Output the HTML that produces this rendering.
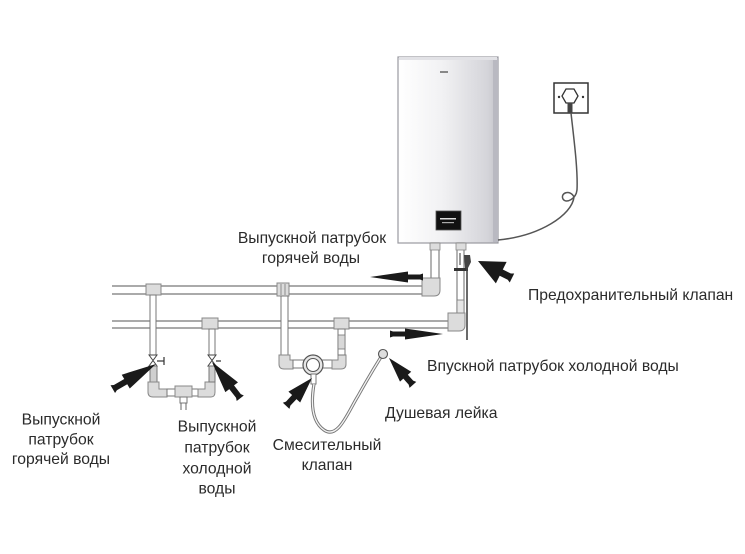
<!DOCTYPE html>
<html>
<head>
<meta charset="utf-8">
<style>
  html,body{margin:0;padding:0;background:#fff;}
  body{width:745px;height:554px;overflow:hidden;}
  svg{display:block;}
  text{font-family:"Liberation Sans","Noto Sans CJK SC",sans-serif;font-size:15.7px;fill:#2b2b2b;}
</style>
</head>
<body>
<svg width="745" height="554" viewBox="0 0 745 554" xmlns="http://www.w3.org/2000/svg">
  <defs>
    <linearGradient id="hg" x1="0" y1="0" x2="1" y2="0">
      <stop offset="0" stop-color="#ffffff"/>
      <stop offset="0.45" stop-color="#f1f1f3"/>
      <stop offset="0.9" stop-color="#d4d4d9"/>
      <stop offset="1" stop-color="#c2c2c8"/>
    </linearGradient>
  </defs>

  <!-- Heater -->
  <rect x="398" y="57" width="100" height="186" fill="url(#hg)" stroke="#9a9aa0" stroke-width="1.2"/>
  <rect x="493" y="58" width="5" height="184" fill="#b9b9c1"/>
  <rect x="399" y="57" width="98" height="3" fill="#e2e2e6"/>
  <rect x="440" y="71" width="8" height="2" fill="#888"/>
  <rect x="436" y="211" width="25" height="19" fill="#111" stroke="#555" stroke-width="0.8"/>
  <rect x="440" y="218" width="16" height="1.5" fill="#ddd"/>
  <rect x="442" y="222" width="12" height="1.2" fill="#aaa"/>

  <!-- Socket -->
  <rect x="554" y="83" width="34" height="30" fill="#fff" stroke="#333" stroke-width="1.5"/>
  <polygon points="566,89 574,89 578,96 574,103 566,103 562,96" fill="#fff" stroke="#333" stroke-width="1.3"/>
  <circle cx="559" cy="97" r="1.2" fill="#333"/>
  <circle cx="583" cy="97" r="1.2" fill="#333"/>
  <rect x="567.5" y="103" width="5" height="10" fill="#444"/>
  <!-- Cord -->
  <path d="M571,113 C574,140 578,170 577,190 C576,199 566,204 563,199 C560,193 570,189 574,197 C572,215 540,236 498,240" fill="none" stroke="#555" stroke-width="1.5"/>

  <!-- Hot horizontal pipe -->
  <rect x="112" y="286" width="314" height="8" fill="#fff"/>
  <line x1="112" y1="286" x2="426" y2="286" stroke="#777" stroke-width="1.2"/>
  <line x1="112" y1="294" x2="426" y2="294" stroke="#777" stroke-width="1.2"/>
  <!-- Hot vertical from heater -->
  <rect x="431" y="243" width="8" height="36" fill="#fff" stroke="#777" stroke-width="1.1"/>
  <rect x="430" y="243" width="10" height="7" fill="#ddd" stroke="#888" stroke-width="0.8"/>
  <path d="M422,278 L440,278 L440,290 Q440,296 434,296 L422,296 Z" fill="#dcdcdc" stroke="#888" stroke-width="1"/>

  <!-- Cold horizontal pipe -->
  <rect x="112" y="321" width="338" height="7" fill="#fff"/>
  <line x1="112" y1="321" x2="450" y2="321" stroke="#777" stroke-width="1.2"/>
  <line x1="112" y1="328" x2="450" y2="328" stroke="#777" stroke-width="1.2"/>
  <!-- Cold vertical from heater -->
  <rect x="457" y="243" width="7" height="72" fill="#fff" stroke="#777" stroke-width="1.1"/>
  <rect x="456" y="243" width="10" height="7" fill="#ddd" stroke="#888" stroke-width="0.8"/>
  <rect x="457" y="300" width="7" height="14" fill="#e6e6e6" stroke="#777" stroke-width="0.8"/>
  <path d="M448,313 L465,313 L465,325 Q465,331 459,331 L448,331 Z" fill="#dcdcdc" stroke="#888" stroke-width="1"/>
  <!-- Safety valve -->
  <rect x="454" y="268" width="14" height="3" fill="#333"/>
  <path d="M464,255 L470,255 L471,262 L468,268 L465,268 Z" fill="#444"/>
  <line x1="460" y1="253" x2="460" y2="265" stroke="#333" stroke-width="1"/>
  <line x1="467" y1="262" x2="467" y2="340" stroke="#444" stroke-width="1.6"/>

  <!-- Left assembly -->
  <rect x="146" y="284" width="15" height="11" fill="#dcdcdc" stroke="#888" stroke-width="1"/>
  <rect x="150" y="295" width="6" height="60" fill="#fff" stroke="#777" stroke-width="1"/>
  <polygon points="149,355 157,366 149,366 157,355" fill="#fff" stroke="#444" stroke-width="1"/>
  <line x1="157" y1="361" x2="164" y2="361" stroke="#333" stroke-width="1.2"/>
  <line x1="164" y1="357" x2="164" y2="365" stroke="#333" stroke-width="1.2"/>
  <rect x="150" y="366" width="7" height="16" fill="#cfcfcf" stroke="#777" stroke-width="1"/>
  <path d="M148,382 L159,382 L159,389 L167,389 L167,397 L153,397 Q148,397 148,392 Z" fill="#dcdcdc" stroke="#888" stroke-width="1"/>
  <rect x="167" y="389" width="31" height="7" fill="#fff" stroke="#777" stroke-width="1"/>
  <rect x="175" y="386" width="17" height="11" fill="#dcdcdc" stroke="#888" stroke-width="1"/>
  <rect x="180" y="397" width="7" height="6" fill="#fff" stroke="#777" stroke-width="1"/>
  <line x1="181" y1="403" x2="181" y2="410" stroke="#666" stroke-width="1"/>
  <line x1="186" y1="403" x2="186" y2="410" stroke="#666" stroke-width="1"/>
  <path d="M215,382 L205,382 L205,389 L198,389 L198,397 L211,397 Q215,397 215,392 Z" fill="#dcdcdc" stroke="#888" stroke-width="1"/>
  <rect x="202" y="318" width="16" height="11" fill="#dcdcdc" stroke="#888" stroke-width="1"/>
  <rect x="209" y="329" width="6" height="26" fill="#fff" stroke="#777" stroke-width="1"/>
  <polygon points="208,355 216,366 208,366 216,355" fill="#fff" stroke="#444" stroke-width="1"/>
  <line x1="216" y1="361" x2="221" y2="361" stroke="#333" stroke-width="1.2"/>
  <rect x="209" y="366" width="6" height="16" fill="#cfcfcf" stroke="#777" stroke-width="1"/>

  <!-- Middle assembly -->
  <rect x="277" y="283" width="12" height="13" fill="#dcdcdc" stroke="#888" stroke-width="1"/>
  <line x1="281" y1="284" x2="281" y2="295" stroke="#777" stroke-width="0.8"/>
  <line x1="285" y1="284" x2="285" y2="295" stroke="#777" stroke-width="0.8"/>
  <rect x="281" y="296" width="7" height="59" fill="#fff" stroke="#777" stroke-width="1"/>
  <path d="M279,355 L290,355 L290,360 L293,360 L293,369 L284,369 Q279,369 279,364 Z" fill="#dcdcdc" stroke="#888" stroke-width="1"/>
  <rect x="293" y="360" width="11" height="8" fill="#fff" stroke="#777" stroke-width="1"/>
  <rect x="322" y="360" width="11" height="8" fill="#fff" stroke="#777" stroke-width="1"/>
  <path d="M346,355 L338,355 L338,360 L332,360 L332,369 L341,369 Q346,369 346,364 Z" fill="#dcdcdc" stroke="#888" stroke-width="1"/>
  <rect x="334" y="318" width="15" height="11" fill="#dcdcdc" stroke="#888" stroke-width="1"/>
  <rect x="338" y="329" width="7" height="26" fill="#fff" stroke="#777" stroke-width="1"/>
  <rect x="338" y="335" width="7" height="14" fill="#d8d8d8" stroke="#777" stroke-width="0.8"/>
  <circle cx="313" cy="365" r="10" fill="#e6e6e6" stroke="#555" stroke-width="1.2"/>
  <circle cx="313" cy="365" r="6.5" fill="#fff" stroke="#555" stroke-width="1.1"/>
  <rect x="311" y="374" width="5" height="10" fill="#fff" stroke="#777" stroke-width="1"/>

  <!-- Hose -->
  <path d="M314,384 C311,402 311,421 324,430 C338,440 348,412 358,396 C368,378 376,365 381,357" fill="none" stroke="#777" stroke-width="3.2"/>
  <path d="M314,384 C311,402 311,421 324,430 C338,440 348,412 358,396 C368,378 376,365 381,357" fill="none" stroke="#f4f4f4" stroke-width="1.3"/>
  <circle cx="383" cy="354" r="4.5" fill="#ddd" stroke="#555" stroke-width="1.1"/>

  <!-- Arrows -->
  <g fill="#1a1a1a">
    <polygon transform="translate(370,277)" points="0,0 38,-5.5 38,-2.5 50,-2.5 53,-3.5 53,3.5 50,2.5 38,2.5 38,5.5"/>
    <polygon transform="translate(443,334) rotate(180)" points="0,0 38,-5.5 38,-2.5 50,-2.5 53,-3.5 53,3.5 50,2.5 38,2.5 38,5.5"/>
    <polygon transform="translate(478,261) rotate(26.6)" points="0,0 26,-12 26,-3.5 35,-3.5 38,-5 38,5 35,3.5 26,3.5 26,12"/>
    <polygon transform="translate(156,364) rotate(149.8)" points="0,0 35,-8 35,-3 47,-3 50,-4.5 50,4.5 47,3 35,3 35,8"/>
    <polygon transform="translate(212,362) rotate(52.1)" points="0,0 32,-8 32,-3 43,-3 46,-4.5 46,4.5 43,3 32,3 32,8"/>
    <polygon transform="translate(312,378) rotate(132.9)" points="0,0 26,-8 26,-3 35,-3 38,-4.5 38,4.5 35,3 26,3 26,8"/>
    <polygon transform="translate(389,358) rotate(48.4)" points="0,0 25,-7.5 25,-3 33,-3 36,-4.5 36,4.5 33,3 25,3 25,7.5"/>
  </g>

  <!-- Labels -->
  <text x="312" y="243" text-anchor="middle">Выпускной патрубок</text>
  <text x="311" y="263" text-anchor="middle">горячей воды</text>
  <text x="528" y="300">Предохранительный клапан</text>
  <text x="427" y="371">Впускной патрубок холодной воды</text>
  <text x="385" y="418">Душевая лейка</text>
  <text x="327" y="450" text-anchor="middle">Смесительный</text>
  <text x="327" y="470" text-anchor="middle">клапан</text>
  <text x="61" y="424.5" text-anchor="middle">Выпускной</text>
  <text x="61" y="444.5" text-anchor="middle">патрубок</text>
  <text x="61" y="464" text-anchor="middle">горячей воды</text>
  <text x="217" y="431.5" text-anchor="middle">Выпускной</text>
  <text x="217" y="452.5" text-anchor="middle">патрубок</text>
  <text x="217" y="473.5" text-anchor="middle">холодной</text>
  <text x="217" y="493.5" text-anchor="middle">воды</text>
</svg>
</body>
</html>
